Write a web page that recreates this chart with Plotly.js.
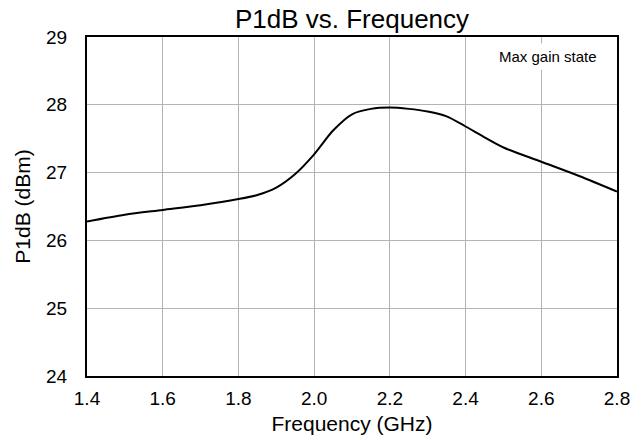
<!DOCTYPE html>
<html>
<head>
<meta charset="utf-8">
<script src="https://cdn.plot.ly/plotly-3.0.1.min.js"></script>
<style>html,body{margin:0;padding:0;background:#fff;}#chart{width:642px;height:440px;}</style>
</head>
<body>
<div id="chart"></div>
<script>
const freqGHz = [1.4, 1.5, 1.6, 1.7, 1.8, 1.85, 1.9, 1.95, 2.0, 2.05, 2.1, 2.15, 2.2, 2.25, 2.3, 2.35, 2.4, 2.45, 2.5, 2.6, 2.7, 2.8];
const p1dB = [26.28, 26.38, 26.45, 26.52, 26.61, 26.67, 26.78, 26.98, 27.27, 27.62, 27.86, 27.94, 27.96, 27.94, 27.9, 27.83, 27.68, 27.52, 27.37, 27.16, 26.95, 26.72];
const xTicks = [1.4, 1.6, 1.8, 2.0, 2.2, 2.4, 2.6, 2.8];
const xTickLabels = ["1.4", "1.6", "1.8", "2.0", "2.2", "2.4", "2.6", "2.8"];
const yTicks = [24, 25, 26, 27, 28, 29];

const font = "Liberation Sans, Arial, sans-serif";
const trace = {
  x: freqGHz, y: p1dB, type: "scatter", mode: "lines",
  line: {color: "#000", width: 2, shape: "spline", smoothing: 0.8},
  hoverinfo: "skip", showlegend: false
};
const layout = {
  width: 642, height: 440,
  margin: {l: 87, r: 25, t: 37, b: 64},
  paper_bgcolor: "#fff", plot_bgcolor: "#fff",
  font: {family: font, color: "#000", size: 19},
  title: {text: "P1dB vs. Frequency", font: {family: font, size: 26, color: "#000"}, xref: "paper", x: 0.5, xanchor: "center", yref: "container", y: 0.958, yanchor: "middle"},
  xaxis: {
    range: [1.4, 2.8], tickvals: xTicks, ticktext: xTickLabels,
    showgrid: true, gridcolor: "#b3b3b3", gridwidth: 1,
    showline: true, linecolor: "#000", linewidth: 2, mirror: true,
    ticks: "", zeroline: false, tickfont: {size: 19}, ticklabelstandoff: 4,
    automargin: false,
    title: {text: "Frequency (GHz)", font: {size: 21}, standoff: 9}
  },
  yaxis: {
    range: [24, 29], tickvals: yTicks,
    showgrid: true, gridcolor: "#b3b3b3", gridwidth: 1,
    showline: true, linecolor: "#000", linewidth: 2, mirror: true,
    ticks: "", zeroline: false, tickfont: {size: 19}, ticklabelstandoff: 14,
    automargin: false,
    title: {text: "P1dB (dBm)", font: {size: 21}, standoff: 10}
  },
  annotations: [{
    text: "Max gain state", xref: "paper", yref: "paper",
    x: 0.870, y: 0.942, xanchor: "center", yanchor: "middle",
    showarrow: false, font: {size: 15, color: "#000"},
    bgcolor: "#fff", borderpad: 4
  }]
};
Plotly.newPlot("chart", [trace], layout, {staticPlot: true});
</script>
</body>
</html>
